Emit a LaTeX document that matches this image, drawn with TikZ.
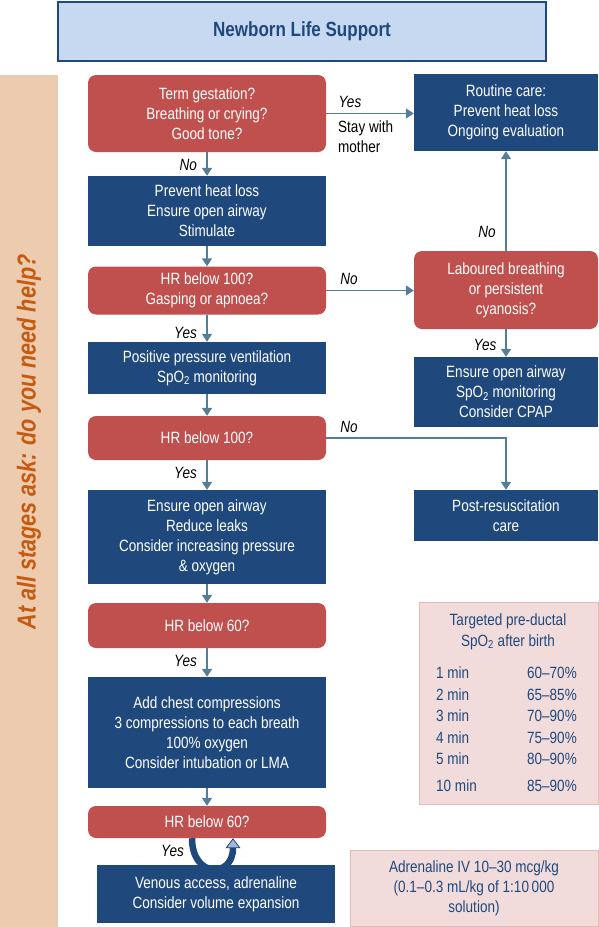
\documentclass[tikz,border=0pt]{standalone}
\usepackage{fontspec}
\setmainfont{Liberation Sans}[FakeStretch=0.83]
\usetikzlibrary{arrows.meta}
\definecolor{nlsblue}{RGB}{31,73,125}
\definecolor{nlsred}{RGB}{192,80,77}
\definecolor{titlefill}{RGB}{198,217,241}
\definecolor{sidefill}{RGB}{237,203,175}
\definecolor{sidetext}{RGB}{197,90,17}
\definecolor{pinkfill}{RGB}{242,220,219}
\definecolor{pinkline}{RGB}{230,185,184}
\definecolor{arrowgray}{RGB}{84,126,152}
\definecolor{looplight}{RGB}{157,185,218}

\begin{document}
\begin{tikzpicture}[x=1pt, y=-1pt,
        every node/.style={align=center, inner sep=0pt, font=\fontsize{16.3}{20}\selectfont},
        question/.style={fill=nlsred, text=white, rounded corners=8pt, minimum width=238pt},
        action/.style={fill=nlsblue, text=white, minimum width=238pt},
        sidebox/.style={fill=nlsblue, text=white, minimum width=184pt},
        infobox/.style={fill=pinkfill, draw=pinkline, text=nlsblue},
        answer/.style={font=\fontsize{16.3}{20}\selectfont\itshape},
        flow/.style={-{Triangle[width=10pt,length=8pt]}, arrowgray, line width=1.5pt}
    ]
        \useasboundingbox (0,0) rectangle (599,927);

        % Title and side bar
        \node[draw=nlsblue, fill=titlefill, line width=2pt, minimum width=488pt, minimum height=59pt, text=nlsblue, font=\fontsize{20.5}{22}\selectfont\bfseries] (title) at (302,31) {Newborn Life Support};
        \node[fill=sidefill, minimum width=58pt, minimum height=852pt] (side) at (29,501) {};
        \node[rotate=90, text=sidetext, font=\fontsize{26}{28}\selectfont\bfseries\itshape] (help) at (29,442) {At all stages ask: do you need help?};

        % Main column
        \node[question, minimum height=77pt] (gest) at (207,113.5) {Term gestation?\\Breathing or crying?\\Good tone?};
        \node[action, minimum height=70pt] (warm) at (207,211) {Prevent heat loss\\Ensure open airway\\Stimulate};
        \node[question, minimum height=48pt] (hr1) at (207,290.5) {HR below 100?\\Gasping or apnoea?};
        \node[action, minimum height=52pt] (ppv) at (207,368) {Positive pressure ventilation\\SpO\textsubscript{2} monitoring};
        \node[question, minimum height=44pt] (hr2) at (207,438) {HR below 100?};
        \node[action, minimum height=94pt] (leaks) at (207,537) {Ensure open airway\\Reduce leaks\\Consider increasing pressure\\\& oxygen};
        \node[question, minimum height=45pt] (hr3) at (207,625.5) {HR below 60?};
        \node[action, minimum height=111pt] (chest) at (207,732.5) {Add chest compressions\\3 compressions to each breath\\100\% oxygen\\Consider intubation or LMA};
        \node[question, minimum height=32pt] (hr4) at (207,822) {HR below 60?};
        \node[action, minimum height=58pt] (venous) at (216,894) {Venous access, adrenaline\\Consider volume expansion};

        % Right column
        \node[sidebox, minimum height=77pt] (routine) at (506,112.5) {Routine care:\\Prevent heat loss\\Ongoing evaluation};
        \node[question, minimum width=184pt, minimum height=78pt] (labour) at (506,290) {Laboured breathing\\or persistent\\cyanosis?};
        \node[sidebox, minimum height=70pt] (cpap) at (506,392) {Ensure open airway\\SpO\textsubscript{2} monitoring\\Consider CPAP};
        \node[sidebox, minimum height=51pt] (postres) at (506,515.5) {Post-resuscitation\\care};

        % Saturation targets
        \node[infobox, minimum width=179pt, minimum height=202pt] (targets) at (508.5,703) {};
        \node[text=nlsblue, font=\fontsize{16.3}{21}\selectfont] (targethead) at (508,631.5) {Targeted pre-ductal\\SpO\textsubscript{2} after birth};
        \node[text=nlsblue, anchor=west] (t1) at (436,673) {1 min};
        \node[text=nlsblue, anchor=west] (t2) at (436,695) {2 min};
        \node[text=nlsblue, anchor=west] (t3) at (436,716) {3 min};
        \node[text=nlsblue, anchor=west] (t4) at (436,738) {4 min};
        \node[text=nlsblue, anchor=west] (t5) at (436,759) {5 min};
        \node[text=nlsblue, anchor=west] (t10) at (436,786) {10 min};
        \node[text=nlsblue, anchor=east] (v1) at (577,673) {60--70\%};
        \node[text=nlsblue, anchor=east] (v2) at (577,695) {65--85\%};
        \node[text=nlsblue, anchor=east] (v3) at (577,716) {70--90\%};
        \node[text=nlsblue, anchor=east] (v4) at (577,738) {75--90\%};
        \node[text=nlsblue, anchor=east] (v5) at (577,759) {80--90\%};
        \node[text=nlsblue, anchor=east] (v10) at (577,786) {85--90\%};

        % Drug box
        \node[infobox, minimum width=248pt, minimum height=76pt] (adren) at (474,888) {Adrenaline IV 10--30 mcg/kg\\(0.1--0.3 mL/kg of 1:10\,000\\solution)};

        % Answers
        \node[answer] (yes1) at (350,102) {Yes};
        \node[anchor=west, align=left] (stay) at (338,137) {Stay with\\mother};
        \node[answer, anchor=east] (no1) at (197,165) {No};
        \node[answer] (no2) at (349,279) {No};
        \node[answer] (no3) at (487,232) {No};
        \node[answer] (yes2) at (485,345) {Yes};
        \node[answer, anchor=east] (yes3) at (197,333) {Yes};
        \node[answer] (no4) at (349,427) {No};
        \node[answer, anchor=east] (yes4) at (197,473) {Yes};
        \node[answer, anchor=east] (yes5) at (197,661) {Yes};
        \node[answer, anchor=east] (yes6) at (184,851) {Yes};

        % Arrows
        \draw[flow] (gest.east) -- (gest.east -| routine.west);
        \draw[flow] (gest) -- (warm);
        \draw[flow] (warm) -- (hr1);
        \draw[flow] (hr1.east) -- (hr1.east -| labour.west);
        \draw[flow] (labour) -- (routine);
        \draw[flow] (labour) -- (cpap);
        \draw[flow] (hr1) -- (ppv);
        \draw[flow] (ppv) -- (hr2);
        \draw[flow] (hr2.east) -| (postres.north);
        \draw[flow] (hr2) -- (leaks);
        \draw[flow] (leaks) -- (hr3);
        \draw[flow] (hr3) -- (chest);
        \draw[flow] (chest) -- (hr4);

        % Loop back from the drug step
        \draw[nlsblue, line width=6.5pt, -{Triangle[width=15pt,length=10pt,fill=looplight,line width=0.8pt]}]
            ([xshift=-15pt]hr4.south) .. controls +(0,40) and +(0,40) .. ([xshift=26pt]hr4.south);
    \end{tikzpicture}
\end{document}
